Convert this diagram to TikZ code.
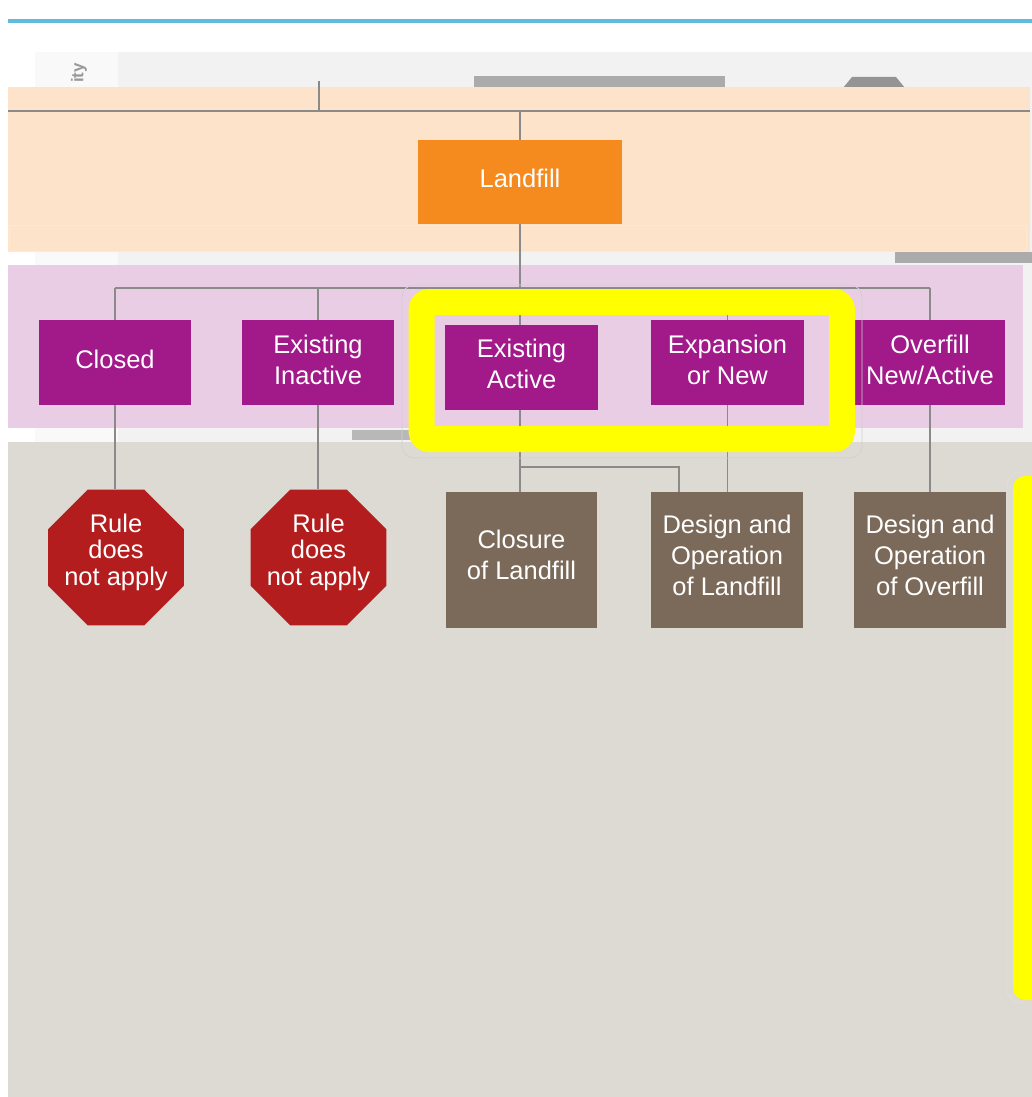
\documentclass[tikz,border=0pt]{standalone}
\usepackage{fontspec}
\setmainfont{Liberation Sans}
\usetikzlibrary{shapes.geometric}
\definecolor{blueline}{HTML}{5FBCDF}
\definecolor{panelgray}{HTML}{F2F2F2}
\definecolor{panelgrayL}{HTML}{F9F9F9}
\definecolor{orangeband}{HTML}{FDE3CA}
\definecolor{orangebox}{HTML}{F58A1F}
\definecolor{purpleband}{HTML}{E9CDE4}
\definecolor{purplebox}{HTML}{A2198A}
\definecolor{beige}{HTML}{DDD9D3}
\definecolor{brownbox}{HTML}{7B6A59}
\definecolor{redstop}{HTML}{B31D1D}
\definecolor{hiyellow}{HTML}{FFFF00}
\definecolor{linegray}{HTML}{8A8A8A}
\definecolor{bargray}{HTML}{ABABAB}
\newcommand\mylines[2][0pt]{\raisebox{#1}[\height][\depth]{\begin{tabular}{@{}c@{}}#2\end{tabular}}}
\begin{document}
\begin{tikzpicture}[x=1pt,y=-1pt,
  box/.style={rectangle, inner sep=0pt, minimum width=152pt, minimum height=85pt,
    text=white, font=\fontsize{25.5}{31}\selectfont},
  pbox/.style={box, fill=purplebox},
  bbox/.style={box, fill=brownbox, minimum height=136pt},
  stopsign/.style={regular polygon, regular polygon sides=8, minimum size=147pt,
    inner sep=0pt, fill=redstop},
  stoptext/.style={inner sep=0pt, text=white, font=\fontsize{25.5}{26.5}\selectfont},
  conn/.style={draw=linegray, line width=1.6pt}]
\useasboundingbox (0,0) rectangle (1032,1097);
\clip (0,0) rectangle (1032,1097);
% backgrounds
\fill[white] (0,0) rectangle (1032,1097);
\fill[blueline] (8,19) rectangle (1032,23);
\fill[panelgray] (35,52) rectangle (1032,445);
\fill[panelgrayL] (35,52) rectangle (118,445);
\fill[bargray] (474,76) rectangle (725,88);
\fill[black!42] (843,88) -- (852,77) -- (896,77) -- (905,88) -- cycle;
\node[text=black!40, rotate=90, font=\bfseries\fontsize{17}{17}\selectfont, inner sep=0pt] (ity) at (79,73) {ity};
\fill[orangeband] (8,87) rectangle (1030,252);
\draw[draw=orange!18, line width=0.8pt] (9,225) rectangle (1026,251);
\fill[bargray] (895,252) rectangle (1032,263);
\fill[purpleband] (8,265) rectangle (1023,428);
\fill[bargray!85] (352,430) rectangle (410,440);
\fill[beige] (8,442) rectangle (1032,1097);
% right highlight bar
\draw[black!12, line width=0.8pt, rounded corners=14pt] (1007,472) rectangle (1050,1003);
\fill[hiyellow, rounded corners=12pt] (1013,476) rectangle (1050,1000);
% nodes
\node[box, fill=orangebox, minimum width=204pt, minimum height=84pt] (landfill) at (520,182) {\mylines[1pt]{Landfill}};
\node[pbox] (closed) at (115,362.5) {\mylines{Closed}};
\node[pbox] (inactive) at (318,362.5) {\mylines{Existing\\Inactive}};
\node[pbox, minimum width=153pt] (active) at (521.5,367) {\mylines{Existing\\Active}};
\node[pbox, minimum width=153pt] (expansion) at (727.5,362.5) {\mylines{Expansion\\or New}};
\node[pbox, minimum width=150pt] (overfill) at (930,362.5) {\mylines{Overfill\\New/Active}};
\node[stopsign] (stop1) at (116,557.5) {};
\node[stoptext] (stop1t) at (stop1.center) {\mylines[4pt]{Rule\\does\\not apply}};
\node[stopsign] (stop2) at (318.5,557.5) {};
\node[stoptext] (stop2t) at (stop2.center) {\mylines[4pt]{Rule\\does\\not apply}};
\node[bbox, minimum width=151pt] (closure) at (521.5,560) {\mylines[2.5pt]{Closure\\of Landfill}};
\node[bbox] (designL) at (727,560) {\mylines[1.5pt]{Design and\\Operation\\of Landfill}};
\node[bbox] (designO) at (930,560) {\mylines[1.5pt]{Design and\\Operation\\of Overfill}};
% connectors
\coordinate (topL) at (8,111);
\coordinate (topR) at (1030,111);
\coordinate (tick) at (319,81);
\coordinate (busL) at (115,288);
\coordinate (busR) at (930,288);
\coordinate (br) at (679,467);
\draw[conn] (topL) -- (topR);
\draw[conn] (tick) -- (tick |- topL);
\draw[conn] (landfill.north |- topL) -- (landfill.north);
\draw[conn] (landfill.south) -- (landfill.south |- busL);
\draw[conn] (busL) -- (busR);
\draw[conn] (closed.north |- busL) -- (closed.north);
\draw[conn] (inactive.north |- busL) -- (inactive.north);
\draw[conn] (520,288) -- (520,324.5);
\draw[conn] (expansion.north |- busL) -- (expansion.north);
\draw[conn] (overfill.north |- busL) -- (overfill.north);
\draw[conn] (closed.south) -- (closed.south |- stop1.north);
\draw[conn] (inactive.south) -- (inactive.south |- stop2.north);
\draw[conn] (520,409.5) -- (520,492);
\draw[conn] (520,467) -- (br) -- (br |- designL.north);
\draw[conn] (expansion.south) -- (expansion.south |- designL.north);
\draw[conn] (overfill.south) -- (overfill.south |- designO.north);
% highlight frame
\draw[black!18, line width=0.8pt, rounded corners=12pt] (402,285) rectangle (862,458);
\draw[hiyellow, line width=26pt, rounded corners=8pt] (421.5,302) rectangle (842,439);
\end{tikzpicture}
\end{document}
